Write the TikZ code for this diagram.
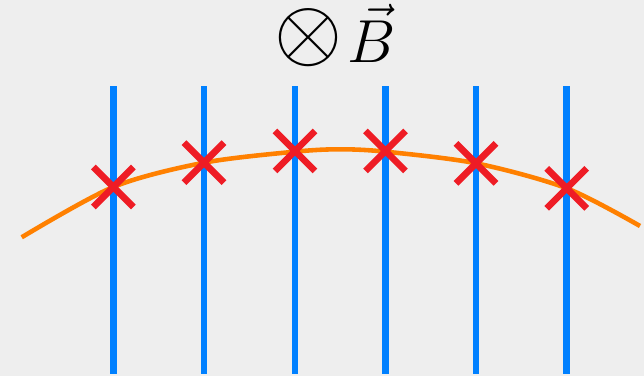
\documentclass[tikz,border=0pt]{standalone}
\usepackage{amsmath, amssymb}
\usepackage{xcolor}
\usepackage{tikz}
\usetikzlibrary{calc}

\definecolor{bggray}{HTML}{EEEEEE}
\definecolor{wireblue}{HTML}{0080FF}
\definecolor{pathorange}{HTML}{FF8000}
\definecolor{hitred}{HTML}{EE1C25}

\begin{document}
\begin{tikzpicture}[x=1cm, y=1cm,
    wire/.style={line width=1.9pt, wireblue},
    hitmark/.style={line width=1.9pt, hitred},
    every node/.style={font=\fontsize{17}{20}\selectfont}]
  \useasboundingbox (0,0) rectangle (6.44,3.76);
  \fill[bggray] (0,0) rectangle (6.44,3.76);
  \draw[wire] (1.133,0.02) -- (1.133,2.90);
  \draw[wire] (2.040,0.02) -- (2.040,2.90);
  \draw[wire] (2.950,0.02) -- (2.950,2.90);
  \draw[wire] (3.855,0.02) -- (3.855,2.90);
  \draw[wire] (4.760,0.02) -- (4.760,2.90);
  \draw[wire] (5.667,0.02) -- (5.667,2.90);
  \draw[line width=1.3pt, pathorange] plot[smooth] coordinates
    {(0.217,1.387) (1.133,1.890) (2.040,2.133) (2.950,2.243) (3.400,2.267)
     (3.855,2.243) (4.760,2.127) (5.667,1.877) (6.400,1.500)};
  \draw[hitmark] (1.133,1.890) +(-0.2,-0.2) -- +(0.2,0.2) +(-0.2,0.2) -- +(0.2,-0.2);
  \draw[hitmark] (2.040,2.133) +(-0.2,-0.2) -- +(0.2,0.2) +(-0.2,0.2) -- +(0.2,-0.2);
  \draw[hitmark] (2.950,2.250) +(-0.2,-0.2) -- +(0.2,0.2) +(-0.2,0.2) -- +(0.2,-0.2);
  \draw[hitmark] (3.855,2.250) +(-0.2,-0.2) -- +(0.2,0.2) +(-0.2,0.2) -- +(0.2,-0.2);
  \draw[hitmark] (4.760,2.127) +(-0.2,-0.2) -- +(0.2,0.2) +(-0.2,0.2) -- +(0.2,-0.2);
  \draw[hitmark] (5.667,1.877) +(-0.2,-0.2) -- +(0.2,0.2) +(-0.2,0.2) -- +(0.2,-0.2);
  \node (field) [anchor=base, inner sep=0pt] at (3.35,3.13)
    {\raisebox{1.0pt}{\fontsize{27}{30}\selectfont$\otimes$}\hspace{1.5pt}$\vec{B}$};
\end{tikzpicture}
\end{document}
